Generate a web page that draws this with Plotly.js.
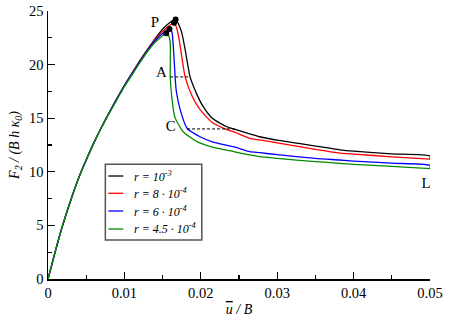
<!DOCTYPE html>
<html>
<head>
<meta charset="utf-8">
<script src="https://cdn.plot.ly/plotly-3.0.1.min.js"></script>
<style>html,body{margin:0;padding:0;background:#fff;}#chart{width:451px;height:319px;}</style>
</head>
<body>
<div id="chart"></div>
<script>
// ---- data ----
const seriesNames = ["r = 10<sup>-3</sup>", "r = 8 · 10<sup>-4</sup>", "r = 6 · 10<sup>-4</sup>", "r = 4.5 · 10<sup>-4</sup>"];
const seriesColors = ["#000000", "#ff0000", "#0000ff", "#008c00"];

const xBlack = [0,0.001,0.002,0.003,0.004,0.005,0.006,0.007,0.008,0.009,0.010,0.011,0.012,0.013,0.014,0.015,0.016,0.0167,0.0170,0.0175,0.0180,0.0186,0.0195,0.0203,0.0215,0.0234,0.0245,0.0264,0.0277,0.030,0.035,0.0382,0.040,0.045,0.050,0.050];
const yBlack = [0,2.7,5.2,7.4,9.4,11.1,12.7,14.15,15.5,16.8,18.05,19.2,20.35,21.4,22.4,23.3,23.95,24.2,23.9,23.0,21.2,18.85,17.2,16.1,15.0,14.2,13.95,13.53,13.27,12.95,12.4,12.05,11.92,11.68,11.47,11.19];

const xRed = [0,0.001,0.002,0.003,0.004,0.005,0.006,0.007,0.008,0.009,0.010,0.011,0.012,0.013,0.014,0.015,0.016,0.0165,0.0168,0.0171,0.0175,0.01795,0.0189,0.0199,0.0215,0.0232,0.02426,0.0264,0.0277,0.030,0.035,0.0382,0.040,0.045,0.050];
const yRed = [0,2.7,5.2,7.4,9.4,11.1,12.7,14.15,15.5,16.8,18.05,19.2,20.3,21.35,22.3,23.1,23.7,23.9,23.5,22.6,20.8,18.85,17.0,15.8,14.6,14.0,13.74,13.12,12.97,12.7,12.1,11.75,11.65,11.4,11.19];

const xBlue = [0,0.001,0.002,0.003,0.004,0.005,0.006,0.007,0.008,0.009,0.010,0.011,0.012,0.013,0.014,0.015,0.0159,0.0162,0.01643,0.01664,0.0168,0.0173,0.0182,0.0199,0.0215,0.02426,0.0264,0.0277,0.030,0.035,0.0382,0.040,0.045,0.050,0.050];
const yBlue = [0,2.7,5.2,7.4,9.4,11.1,12.7,14.15,15.5,16.8,18.05,19.15,20.25,21.3,22.2,22.9,23.32,23.1,21.4,18.85,17.5,15.8,14.06,13.27,12.8,12.34,11.88,11.78,11.6,11.25,11.1,11.0,10.8,10.6,10.3];

const xGreen = [0,0.001,0.002,0.003,0.004,0.005,0.006,0.007,0.008,0.009,0.010,0.011,0.012,0.013,0.014,0.015,0.01547,0.0158,0.0160,0.0160,0.0162,0.0166,0.0177,0.0195,0.0215,0.0243,0.0264,0.0277,0.030,0.035,0.0382,0.040,0.045,0.050];
const yGreen = [0,2.7,5.2,7.4,9.4,11.1,12.7,14.15,15.45,16.7,17.95,19.05,20.15,21.2,22.05,22.7,22.92,22.7,22.0,18.85,17.0,15.1,13.74,12.81,12.3,11.88,11.57,11.41,11.25,10.95,10.79,10.7,10.5,10.29];

// peak points (black dots)
const peakX = [0.0167, 0.0165, 0.0159, 0.01547];
const peakY = [24.2, 23.9, 23.32, 22.92];

// dashed guide lines A and C
const guideAX = [0.0160, 0.0186];
const guideAY = [18.85, 18.85];
const guideCX = [0.0182, 0.0245];
const guideCY = [14.0, 14.0];

// point labels
const labelText = ["P", "A", "C", "L"];
const labelX = [0.0140, 0.01486, 0.01608, 0.0495];
const labelY = [23.85, 19.2, 14.2, 8.8];

const xTickVals = [0, 0.01, 0.02, 0.03, 0.04, 0.05];
const xTickText = ["0", "0.01", "0.02", "0.03", "0.04", "0.05"];
const yTickVals = [0, 5, 10, 15, 20, 25];

// ---- build ----
const serif = "Liberation Serif, Times New Roman, serif";
const xs = [xBlack, xRed, xBlue, xGreen];
const ys = [yBlack, yRed, yBlue, yGreen];
const traces = [];
for (let i = 0; i < 4; i++) {
  traces.push({
    x: xs[i], y: ys[i], type: "scatter", mode: "lines",
    name: seriesNames[i], showlegend: false,
    line: {color: seriesColors[i], width: 1.3, shape: "spline", smoothing: 0.6},
    hoverinfo: "skip"
  });
}
traces.push({x: guideAX, y: guideAY, mode: "lines", showlegend: false, line: {color: "#000", width: 1, dash: "3px,2px"}});
traces.push({x: guideCX, y: guideCY, mode: "lines", showlegend: false, line: {color: "#000", width: 1, dash: "3px,2px"}});
traces.push({x: peakX, y: peakY, mode: "markers", showlegend: false, marker: {color: "#000", size: 6}});
traces.push({x: labelX, y: labelY, mode: "text", text: labelText, showlegend: false,
  textfont: {family: serif, size: 15, color: "#000"}, textposition: "middle center"});

// manual legend (paper coordinates)
const legBox = {x0: 0.1501, x1: 0.4026, y0: 0.1455, y1: 0.428};
const legRowY = [0.3843, 0.3198, 0.2537, 0.1866];
const shapes = [{type: "rect", xref: "paper", yref: "paper", x0: legBox.x0, x1: legBox.x1, y0: legBox.y0, y1: legBox.y1,
  line: {color: "#555", width: 1.5}, fillcolor: "#fff", layer: "above"}];
const annotations = [];
for (let i = 0; i < 4; i++) {
  shapes.push({type: "line", xref: "paper", yref: "paper", x0: 0.158, x1: 0.197, y0: legRowY[i], y1: legRowY[i],
    line: {color: seriesColors[i], width: 1.3}, layer: "above"});
  annotations.push({xref: "paper", yref: "paper", x: 0.2198, y: legRowY[i], xanchor: "left", yanchor: "middle",
    showarrow: false, text: "<i>" + seriesNames[i] + "</i>", font: {family: serif, size: 12, color: "#000"}});
}

const layout = {
  width: 451, height: 319,
  margin: {l: 47.5, r: 20.5, t: 11, b: 40},
  paper_bgcolor: "#fff", plot_bgcolor: "#fff",
  font: {family: serif, size: 14, color: "#000"},
  showlegend: false,
  shapes: shapes, annotations: annotations,
  xaxis: {
    range: [0, 0.05], showgrid: false, zeroline: false,
    showline: true, linecolor: "#000", linewidth: 1.5,
    tickmode: "array", tickvals: xTickVals, ticktext: xTickText,
    ticks: "inside", ticklen: 7, tickwidth: 1.2, tickcolor: "#000",
    minor: {dtick: 0.005, ticks: "inside", ticklen: 4, tickwidth: 1.2, tickcolor: "#000"},
    tickfont: {family: serif, size: 14.5},
    title: {text: "<i><span style=\"text-decoration:overline\">u</span> / B</i>", font: {family: serif, size: 14}, standoff: 4}
  },
  yaxis: {
    range: [0, 25], showgrid: false, zeroline: false,
    showline: true, linecolor: "#000", linewidth: 1.5,
    tickmode: "array", tickvals: yTickVals,
    ticks: "inside", ticklen: 7, tickwidth: 1.2, tickcolor: "#000",
    minor: {dtick: 2.5, ticks: "inside", ticklen: 4, tickwidth: 1.2, tickcolor: "#000"},
    tickfont: {family: serif, size: 14.5},
    title: {text: "<i>F<sub>2</sub> / (B h κ<sub>0</sub>)</i>", font: {family: serif, size: 14}, standoff: 6}
  }
};
Plotly.newPlot("chart", traces, layout, {displayModeBar: false, staticPlot: true});
</script>
</body>
</html>
